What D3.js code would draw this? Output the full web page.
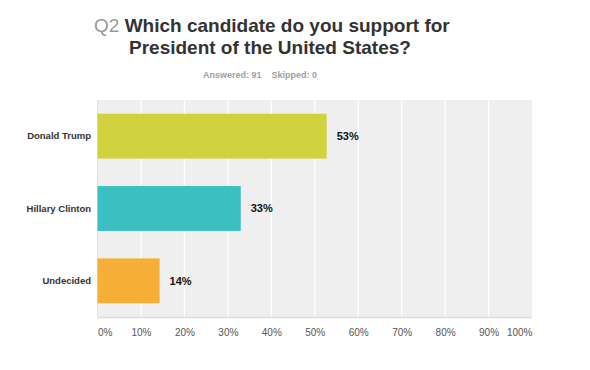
<!DOCTYPE html>
<html>
<head>
<meta charset="utf-8">
<script src="https://cdn.jsdelivr.net/npm/d3@7"></script>
<style>
  body { margin: 0; background: #fff; }
  svg text { font-family: "Liberation Sans", Arial, Helvetica, sans-serif; }
</style>
</head>
<body>
<svg id="chart"></svg>
<script>
// data
var categories = ["Donald Trump", "Hillary Clinton", "Undecided"];
var percents = [52.75, 32.97, 14.29];
var valueLabels = ["53%", "33%", "14%"];
var colors = ["#d0d23e", "#3bbfc0", "#f5ae37"];
var tickValues = [0, 10, 20, 30, 40, 50, 60, 70, 80, 90, 100];

var width = 590, height = 370;
var margin = {top: 100, right: 58, bottom: 53, left: 97.5};

var svg = d3.select("#chart")
    .attr("width", width)
    .attr("height", height);

// title
var title = svg.append("text")
    .attr("x", 94)
    .attr("y", 32)
    .style("font-size", "19px")
    .style("font-weight", "bold");
title.append("tspan").attr("fill", "#999").style("font-weight", "normal").text("Q2 ");
title.append("tspan").attr("fill", "#333").text("Which candidate do you support for");

svg.append("text")
    .attr("x", 129)
    .attr("y", 54)
    .attr("fill", "#333")
    .style("font-size", "19px")
    .style("font-weight", "bold")
    .text("President of the United States?");

svg.append("text")
    .attr("x", 203)
    .attr("y", 78)
    .attr("fill", "#a0a0a0")
    .style("font-size", "9px")
    .style("font-weight", "bold")
    .text("Answered: 91\u00a0\u00a0\u00a0\u00a0Skipped: 0");

// scales
var xScale = d3.scaleLinear()
    .domain([0, 100])
    .range([margin.left, width - margin.right]);

var yScale = d3.scaleBand()
    .domain(categories)
    .range([margin.top, height - margin.bottom])
    .paddingInner(0.38)
    .paddingOuter(0.19);

// plot background
svg.append("rect")
    .attr("x", xScale(0))
    .attr("y", margin.top)
    .attr("width", xScale(100) - xScale(0))
    .attr("height", height - margin.bottom - margin.top)
    .attr("fill", "#efefef");

// gridlines
svg.selectAll(".grid")
    .data(tickValues.slice(1, -1))
    .enter()
    .append("line")
    .attr("x1", d => xScale(d))
    .attr("x2", d => xScale(d))
    .attr("y1", margin.top)
    .attr("y2", height - margin.bottom)
    .attr("stroke", "#fff")
    .attr("stroke-width", 1.2);

// left edge + bottom line
svg.append("line")
    .attr("x1", xScale(0)).attr("x2", xScale(0))
    .attr("y1", margin.top).attr("y2", height - margin.bottom)
    .attr("stroke", "#e2e2e2");
svg.append("line")
    .attr("x1", xScale(0)).attr("x2", xScale(100))
    .attr("y1", height - margin.bottom + 0.5).attr("y2", height - margin.bottom + 0.5)
    .attr("stroke", "#dcdcdc")
    .attr("stroke-width", 1.5);

// bars
svg.selectAll(".bar")
    .data(categories)
    .enter()
    .append("rect")
    .attr("x", xScale(0))
    .attr("y", d => yScale(d))
    .attr("width", (d, i) => xScale(percents[i]) - xScale(0))
    .attr("height", yScale.bandwidth())
    .attr("fill", (d, i) => colors[i]);

// value labels
svg.selectAll(".val")
    .data(categories)
    .enter()
    .append("text")
    .attr("x", (d, i) => xScale(percents[i]) + 10)
    .attr("y", d => yScale(d) + yScale.bandwidth() / 2)
    .attr("dy", "0.35em")
    .attr("fill", "#111")
    .style("font-size", "11px")
    .style("font-weight", "bold")
    .text((d, i) => valueLabels[i]);

// category labels
svg.selectAll(".cat")
    .data(categories)
    .enter()
    .append("text")
    .attr("x", margin.left - 6.5)
    .attr("y", d => yScale(d) + yScale.bandwidth() / 2)
    .attr("dy", "0.35em")
    .attr("text-anchor", "end")
    .attr("fill", "#333")
    .style("font-size", "9.5px")
    .style("font-weight", "bold")
    .text(d => d);

// x axis
var xAxis = d3.axisBottom(xScale)
    .tickValues(tickValues)
    .tickSize(0)
    .tickPadding(0)
    .tickFormat(d => d + "%");

var gx = svg.append("g")
    .attr("transform", "translate(0," + (height - margin.bottom + 12) + ")")
    .call(xAxis);
gx.select(".domain").remove();
gx.selectAll("text")
    .attr("fill", "#555")
    .style("font-size", "10px")
    .style("font-family", "'Liberation Sans', Arial, sans-serif")
    .attr("text-anchor", (d, i) => i === 0 ? "start" : (i === tickValues.length - 1 ? "end" : "middle"));
</script>
</body>
</html>
